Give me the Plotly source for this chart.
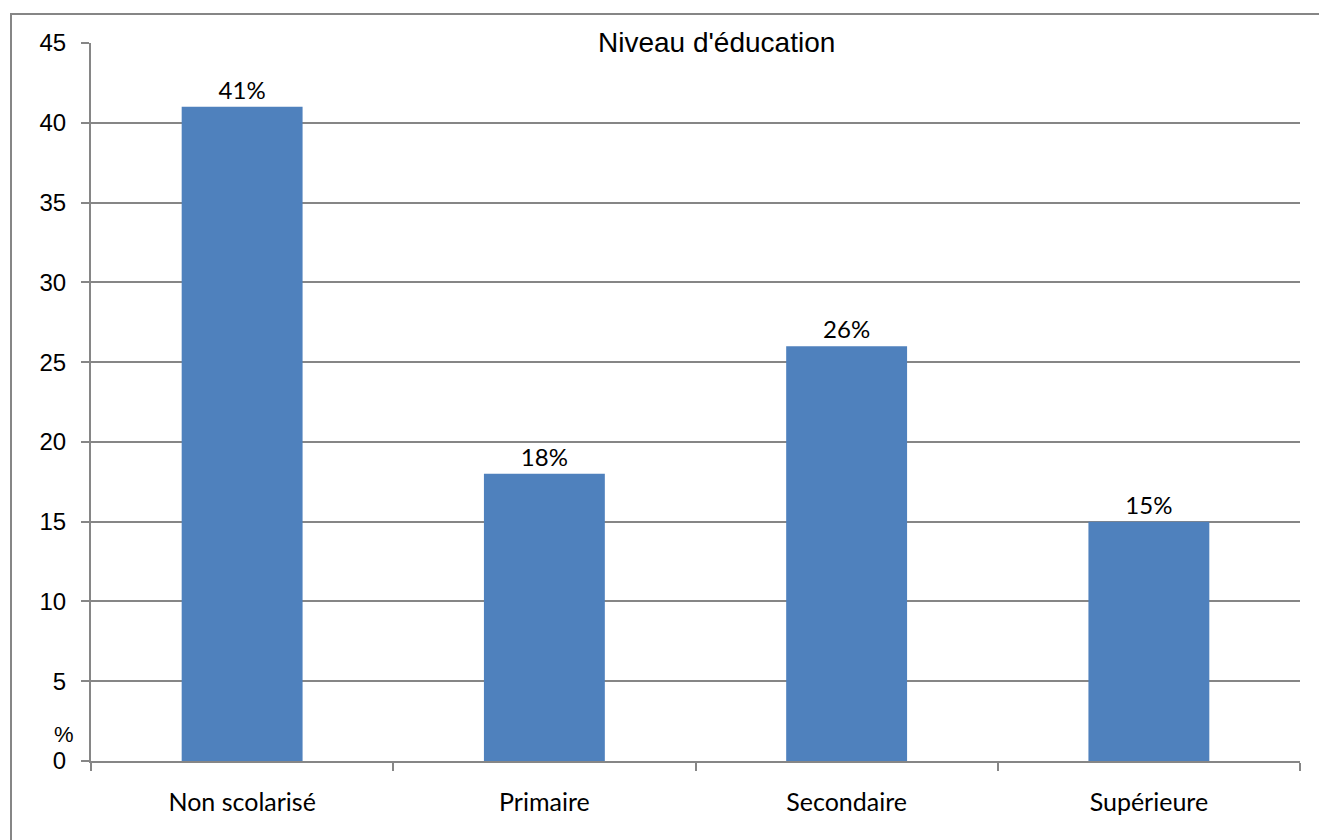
import plotly.graph_objects as go

# Education level distribution (%)
categories = ["Non scolarisé", "Primaire", "Secondaire", "Supérieure"]
values = [41, 18, 26, 15]
value_labels = ["41%", "18%", "26%", "15%"]
title_text = "Niveau d'éducation"
y_unit = "%"

W, H = 1319, 840
L, R, T, B = 91, 19, 43, 79
plot_w = W - L - R
plot_h = H - T - B


def px_x(x):
    return (x - L) / plot_w


def px_y(y):
    return (H - B - y) / plot_h


grid = "#868686"
bar_color = "#4F81BD"

fig = go.Figure(
    go.Bar(
        x=categories,
        y=values,
        text=value_labels,
        textposition="outside",
        textfont=dict(family="Lato", size=24, color="#000000"),
        marker=dict(color=bar_color, line=dict(width=0)),
        cliponaxis=False,
    )
)

fig.update_layout(
    width=W,
    height=H,
    margin=dict(l=L, r=R, t=T, b=B),
    paper_bgcolor="white",
    plot_bgcolor="white",
    bargap=0.6,
    showlegend=False,
    xaxis=dict(
        type="category",
        showgrid=False,
        showline=True,
        linecolor=grid,
        linewidth=2,
        ticks="outside",
        tickson="boundaries",
        ticklen=8,
        tickwidth=2,
        tickcolor=grid,
        ticklabelstandoff=18,
        tickfont=dict(family="Lato", size=25, color="#000000"),
        zeroline=False,
    ),
    yaxis=dict(
        range=[0, 45],
        dtick=5,
        showgrid=True,
        gridcolor=grid,
        gridwidth=2,
        showline=True,
        linecolor=grid,
        linewidth=2,
        ticks="outside",
        ticklen=8,
        tickwidth=2,
        tickcolor=grid,
        ticklabelstandoff=10,
        tickfont=dict(family="Liberation Sans", size=24, color="#000000"),
        zeroline=False,
    ),
    shapes=[
        dict(
            type="rect",
            xref="paper",
            yref="paper",
            x0=px_x(11),
            x1=px_x(W + 20),
            y0=px_y(H + 20),
            y1=px_y(14),
            line=dict(color=grid, width=2),
            fillcolor="rgba(0,0,0,0)",
            layer="below",
        )
    ],
    annotations=[
        dict(
            text=title_text,
            xref="paper",
            yref="paper",
            x=px_x(716),
            y=px_y(42),
            xanchor="center",
            yanchor="middle",
            showarrow=False,
            font=dict(family="Liberation Sans", size=28, color="#000000"),
        ),
        dict(
            text=y_unit,
            xref="paper",
            yref="paper",
            x=px_x(64),
            y=px_y(734),
            xanchor="center",
            yanchor="middle",
            showarrow=False,
            font=dict(family="Liberation Sans", size=22, color="#000000"),
        ),
    ],
)

fig.write_html("out.html")
